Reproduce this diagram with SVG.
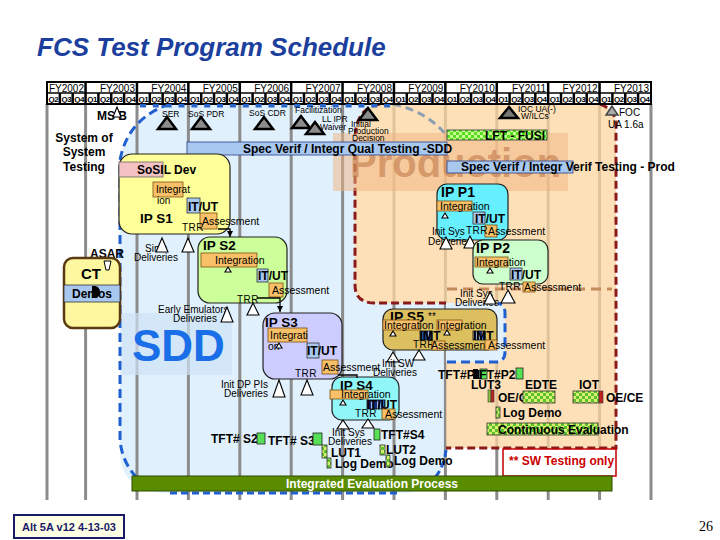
<svg xmlns="http://www.w3.org/2000/svg" width="720" height="540" viewBox="0 0 720 540">
<defs>
<style>
text{font-family:"Liberation Sans",Arial,sans-serif;fill:#000}
.fy{font-size:10px;text-anchor:end}
.q{font-size:8px;font-weight:bold;text-anchor:middle;letter-spacing:-0.5px}
.b12{font-size:12px;font-weight:bold}
.ip{font-size:13.5px;font-weight:bold}
.s10{font-size:10px}
.s105{font-size:10.5px}
.m8{font-size:8.5px}
.box{stroke:#222;stroke-width:1.2}
.or{fill:#f8c068;stroke:#7a5010;stroke-width:0.8}
.bl{fill:#a8c8f0;stroke:#333;stroke-width:0.8}
.nv{fill:url(#nvs);stroke:#111;stroke-width:0.8}
.tri{fill:#fff;stroke:#000;stroke-width:1.1}
.ms{fill:#8c8c8c;stroke:#000;stroke-width:2.5}
.grid{stroke:#8c8c8c;stroke-width:3}
.tft{fill:#55e055;stroke:#222;stroke-width:0.8}
.chk{fill:url(#chk);stroke:#333;stroke-width:0.8}
.con{stroke:#000;stroke-width:1.3;fill:none}
.qs{stroke:#000;stroke-width:2.5}
.tick{fill:#2a66c8}
</style>
<pattern id="chk" width="6" height="6" patternUnits="userSpaceOnUse">
<rect width="6" height="6" fill="#d8f070"/>
<rect width="3" height="3" fill="#5cc030"/>
<rect x="3" y="3" width="3" height="3" fill="#5cc030"/>
</pattern>
<pattern id="chkg" width="6" height="6" patternUnits="userSpaceOnUse">
<rect width="6" height="6" fill="#c8ff90"/>
<rect width="3" height="3" fill="#55dd22"/>
<rect x="3" y="3" width="3" height="3" fill="#55dd22"/>
</pattern>
<pattern id="nvs" width="3" height="4" patternUnits="userSpaceOnUse">
<rect width="3" height="4" fill="#1c2c70"/>
<rect x="2" width="1" height="4" fill="#9fb8e8"/>
</pattern>
<marker id="arr" markerWidth="6" markerHeight="6" refX="6" refY="3" orient="auto" markerUnits="userSpaceOnUse">
<path d="M0,0 L6,3 L0,6 Z" fill="#000"/>
</marker>
</defs>

<rect width="720" height="540" fill="#fff"/>

<!-- title -->
<text x="37" y="56" style="font-size:26px;font-weight:bold;font-style:italic;fill:#1c3f9e">FCS Test Program Schedule</text>

<!-- background regions -->
<g id="regions">
<path d="M170,104 L380,104 Q355,108 355,140 L355,285 Q355,303 375,303 L446,303 L446,440 Q446,493 400,493 L170,493 Q120,493 120,450 L120,160 Q128,118 170,104 Z" fill="#e0f0fc"/>
<g class="grid">
<line x1="47" y1="104" x2="47" y2="500"/>
<line x1="85.6" y1="104" x2="85.6" y2="500"/>
<line x1="137" y1="104" x2="137" y2="500"/>
<line x1="188.4" y1="104" x2="188.4" y2="500"/>
<line x1="239.8" y1="104" x2="239.8" y2="500"/>
<line x1="291.2" y1="104" x2="291.2" y2="500"/>
<line x1="342.6" y1="104" x2="342.6" y2="500"/>
<line x1="394" y1="104" x2="394" y2="500"/>
<line x1="445.4" y1="104" x2="445.4" y2="500"/>
<line x1="496.8" y1="104" x2="496.8" y2="500"/>
<line x1="548.2" y1="104" x2="548.2" y2="500"/>
<line x1="599.6" y1="104" x2="599.6" y2="500"/>
<line x1="651" y1="104" x2="651" y2="500"/>
</g>
<path d="M380,104 L600,104 Q616,110 616,125 L616,448 L446,448 L446,303 L375,303 Q355,303 355,285 L355,140 Q355,108 380,104 Z" fill="#fcd6a0" fill-opacity="0.75"/>
<path d="M446,303 L495,303 Q505,303 505,313 L505,352 Q505,362 495,362 L446,362 Z" fill="#e0f0fc"/>
<line x1="447" y1="289" x2="612" y2="289" stroke="#c48a5a" stroke-width="3" stroke-dasharray="10,6"/>
<!-- borders -->
<path d="M380,104 Q355,108 355,140 L355,285 Q355,303 375,303 L446,303" fill="none" stroke="#8b1a1a" stroke-width="3" stroke-dasharray="8,4"/>
<path d="M600,104 Q616,110 616,125 L616,448 L446,448" fill="none" stroke="#8b1a1a" stroke-width="3" stroke-dasharray="8,4"/>
<path d="M170,104 Q128,118 120,160 L120,440 Q122,462 137,478" fill="none" stroke="#1f5fd0" stroke-width="3" stroke-dasharray="9,5"/>
<path d="M170,493 L400,493" fill="none" stroke="#1f5fd0" stroke-width="3" stroke-dasharray="7,4"/>
<path d="M446,450 Q444,468 433,480" fill="none" stroke="#1f5fd0" stroke-width="3" stroke-dasharray="7,4"/>
<path d="M447,362 L495,362 Q505,362 505,352 L505,313 Q505,305 498,303" fill="none" stroke="#1f5fd0" stroke-width="3" stroke-dasharray="9,5"/>
<path d="M393,104 Q430,112 450,140" fill="none" stroke="#8c9fb0" stroke-width="3" stroke-dasharray="8,5"/>
<!-- watermarks -->
<rect x="122" y="313" width="110" height="62" fill="#cfe3f6" opacity="0.7"/>
<text x="132" y="361" style="font-size:44px;font-weight:bold;fill:#1a6fe8">SDD</text>
<rect x="333" y="133" width="235" height="58" fill="#f0b480" opacity="0.5"/>
<text x="350" y="177" style="font-size:40px;font-weight:bold;fill:#c0784a;fill-opacity:0.6">Production</text>
</g>

<!-- header table -->
<g id="header">
<rect x="47" y="82" width="604" height="22" fill="#fff" stroke="#000" stroke-width="2"/>
<line x1="47" y1="93" x2="651" y2="93" stroke="#000" stroke-width="1.5"/>
<g stroke="#000" stroke-width="2.5">
<line x1="85.55" y1="82" x2="85.55" y2="104"/><line x1="136.95" y1="82" x2="136.95" y2="104"/>
<line x1="188.35" y1="82" x2="188.35" y2="104"/><line x1="239.75" y1="82" x2="239.75" y2="104"/>
<line x1="291.15" y1="82" x2="291.15" y2="104"/><line x1="342.55" y1="82" x2="342.55" y2="104"/>
<line x1="393.95" y1="82" x2="393.95" y2="104"/><line x1="445.35" y1="82" x2="445.35" y2="104"/>
<line x1="496.75" y1="82" x2="496.75" y2="104"/><line x1="548.15" y1="82" x2="548.15" y2="104"/>
<line x1="599.55" y1="82" x2="599.55" y2="104"/>
</g>
<g class="qs">
<line x1="59.85" y1="93" x2="59.85" y2="104"/><line x1="72.7" y1="93" x2="72.7" y2="104"/>
<line x1="98.4" y1="93" x2="98.4" y2="104"/><line x1="111.25" y1="93" x2="111.25" y2="104"/><line x1="124.1" y1="93" x2="124.1" y2="104"/>
<line x1="149.8" y1="93" x2="149.8" y2="104"/><line x1="162.65" y1="93" x2="162.65" y2="104"/><line x1="175.5" y1="93" x2="175.5" y2="104"/>
<line x1="201.2" y1="93" x2="201.2" y2="104"/><line x1="214.05" y1="93" x2="214.05" y2="104"/><line x1="226.9" y1="93" x2="226.9" y2="104"/>
<line x1="252.6" y1="93" x2="252.6" y2="104"/><line x1="265.45" y1="93" x2="265.45" y2="104"/><line x1="278.3" y1="93" x2="278.3" y2="104"/>
<line x1="304" y1="93" x2="304" y2="104"/><line x1="316.85" y1="93" x2="316.85" y2="104"/><line x1="329.7" y1="93" x2="329.7" y2="104"/>
<line x1="355.4" y1="93" x2="355.4" y2="104"/><line x1="368.25" y1="93" x2="368.25" y2="104"/><line x1="381.1" y1="93" x2="381.1" y2="104"/>
<line x1="406.8" y1="93" x2="406.8" y2="104"/><line x1="419.65" y1="93" x2="419.65" y2="104"/><line x1="432.5" y1="93" x2="432.5" y2="104"/>
<line x1="458.2" y1="93" x2="458.2" y2="104"/><line x1="471.05" y1="93" x2="471.05" y2="104"/><line x1="483.9" y1="93" x2="483.9" y2="104"/>
<line x1="509.6" y1="93" x2="509.6" y2="104"/><line x1="522.45" y1="93" x2="522.45" y2="104"/><line x1="535.3" y1="93" x2="535.3" y2="104"/>
<line x1="561" y1="93" x2="561" y2="104"/><line x1="573.85" y1="93" x2="573.85" y2="104"/><line x1="586.7" y1="93" x2="586.7" y2="104"/>
<line x1="612.4" y1="93" x2="612.4" y2="104"/><line x1="625.25" y1="93" x2="625.25" y2="104"/><line x1="638.1" y1="93" x2="638.1" y2="104"/>
</g>
<text class="fy" x="84" y="91.5">FY2002</text>
<text class="fy" x="135" y="91.5">FY2003</text>
<text class="fy" x="186.4" y="91.5">FY2004</text>
<text class="fy" x="237.8" y="91.5">FY2005</text>
<text class="fy" x="289.2" y="91.5">FY2006</text>
<text class="fy" x="340.6" y="91.5">FY2007</text>
<text class="fy" x="392" y="91.5">FY2008</text>
<text class="fy" x="443.4" y="91.5">FY2009</text>
<text class="fy" x="494.8" y="91.5">FY2010</text>
<text class="fy" x="546.2" y="91.5">FY2011</text>
<text class="fy" x="597.6" y="91.5">FY2012</text>
<text class="fy" x="649" y="91.5">FY2013</text>
<g>
<text class="q" x="53.4" y="102">Q2</text><text class="q" x="66.3" y="102">Q3</text><text class="q" x="79.1" y="102">Q4</text>
<text class="q" x="92" y="102">Q1</text><text class="q" x="104.8" y="102">Q2</text><text class="q" x="117.7" y="102">Q3</text><text class="q" x="130.5" y="102">Q4</text>
<text class="q" x="143.4" y="102">Q1</text><text class="q" x="156.2" y="102">Q2</text><text class="q" x="169.1" y="102">Q3</text><text class="q" x="181.9" y="102">Q4</text>
<text class="q" x="194.8" y="102">Q1</text><text class="q" x="207.6" y="102">Q2</text><text class="q" x="220.5" y="102">Q3</text><text class="q" x="233.3" y="102">Q4</text>
<text class="q" x="246.2" y="102">Q1</text><text class="q" x="259" y="102">Q2</text><text class="q" x="271.9" y="102">Q3</text><text class="q" x="284.7" y="102">Q4</text>
<text class="q" x="297.6" y="102">Q1</text><text class="q" x="310.4" y="102">Q2</text><text class="q" x="323.3" y="102">Q3</text><text class="q" x="336.1" y="102">Q4</text>
<text class="q" x="349" y="102">Q1</text><text class="q" x="361.8" y="102">Q2</text><text class="q" x="374.7" y="102">Q3</text><text class="q" x="387.5" y="102">Q4</text>
<text class="q" x="400.4" y="102">Q1</text><text class="q" x="413.2" y="102">Q2</text><text class="q" x="426.1" y="102">Q3</text><text class="q" x="438.9" y="102">Q4</text>
<text class="q" x="451.8" y="102">Q1</text><text class="q" x="464.6" y="102">Q2</text><text class="q" x="477.5" y="102">Q3</text><text class="q" x="490.3" y="102">Q4</text>
<text class="q" x="503.2" y="102">Q1</text><text class="q" x="516" y="102">Q2</text><text class="q" x="528.9" y="102">Q3</text><text class="q" x="541.7" y="102">Q4</text>
<text class="q" x="554.6" y="102">Q1</text><text class="q" x="567.4" y="102">Q2</text><text class="q" x="580.3" y="102">Q3</text><text class="q" x="593.1" y="102">Q4</text>
<text class="q" x="606" y="102">Q1</text><text class="q" x="618.8" y="102">Q2</text><text class="q" x="631.7" y="102">Q3</text><text class="q" x="644.5" y="102">Q4</text>
</g>
<g class="tick">
<rect x="140" y="104" width="6" height="3.5"/><rect x="152.8" y="104" width="6" height="3.5"/><rect x="165.6" y="104" width="6" height="3.5"/><rect x="178.5" y="104" width="6" height="3.5"/>
<rect x="191.4" y="104" width="6" height="3.5"/><rect x="204.2" y="104" width="6" height="3.5"/><rect x="217" y="104" width="6" height="3.5"/><rect x="229.9" y="104" width="6" height="3.5"/>
<rect x="242.8" y="104" width="6" height="3.5"/><rect x="255.6" y="104" width="6" height="3.5"/><rect x="268.5" y="104" width="6" height="3.5"/><rect x="281.3" y="104" width="6" height="3.5"/>
<rect x="294.2" y="104" width="6" height="3.5"/><rect x="307" y="104" width="6" height="3.5"/><rect x="319.9" y="104" width="6" height="3.5"/><rect x="332.7" y="104" width="6" height="3.5"/>
<rect x="345.6" y="104" width="6" height="3.5"/><rect x="358.4" y="104" width="6" height="3.5"/><rect x="371.3" y="104" width="6" height="3.5"/><rect x="384.1" y="104" width="6" height="3.5"/>
</g>
</g>

<!-- milestones -->
<g id="milestones">
<text class="b12" x="97" y="120">MS B</text>
<polygon class="tri" points="117,107 113,117 121,117"/>
<text class="m8" x="162" y="117">SER</text>
<polygon class="ms" points="167,117 158,129 176,129"/>
<text class="m8" x="188" y="117">SoS PDR</text>
<polygon class="ms" points="201,117 192,129 210,129"/>
<text class="m8" x="249" y="116">SoS CDR</text>
<polygon class="ms" points="264,117 255,129 273,129"/>
<text class="m8" x="295" y="113">Facilitization</text>
<text class="m8" x="322" y="122">LL IPR</text>
<text class="m8" x="320" y="130">Waiver</text>
<polygon class="ms" points="301,116 292,128 310,128"/>
<polygon class="ms" points="315,122 306,134 324,134"/>
<polygon class="ms" points="368,108 359,120 377,120"/>
<text class="m8" x="351" y="127">Initial</text>
<text class="m8" x="348" y="134">Production</text>
<text class="m8" x="352" y="141">Decision</text>
<polygon class="ms" points="509,107 500,118 518,118" style="fill:#777"/>
<text class="m8" x="518" y="112">IOC UA(-)</text>
<text class="m8" x="521" y="119">W/ILCs</text>
<polygon points="612,106 606,115 618,115" fill="#aaa" stroke="#444" stroke-width="1.5"/>
<text class="s10" x="619" y="116">FOC</text>
<text class="s10" x="608" y="128">UA 1.6a</text>
</g>

<!-- bars -->
<g id="bars">
<rect x="447" y="130" width="100" height="10" fill="url(#chkg)" stroke="#333" stroke-width="0.8"/>
<text class="b12" x="485" y="140">LFT - FUSI</text>
<rect x="187" y="142" width="260" height="13" class="bl" style="stroke:#27408b"/>
<text class="b12" x="243" y="153">Spec Verif / Integr Qual Testing -SDD</text>
<rect x="447" y="161" width="126" height="12" class="bl" style="stroke:#27408b"/>
<text class="b12" x="461" y="171">Spec Verif / Integr Verif Testing - Prod</text>
</g>

<g id="sos-label">
<text class="b12" x="84" y="142" text-anchor="middle">System of</text>
<text class="b12" x="84" y="156" text-anchor="middle">System</text>
<text class="b12" x="84" y="171" text-anchor="middle">Testing</text>
</g>

<g id="ct">
<text class="b12" x="90" y="258">ASAR</text>
<rect x="64" y="258" width="56" height="70" rx="9" fill="#fdf7a0" stroke="#5a3a10" stroke-width="2.5"/>
<polygon points="104,261 111,261 109,270 106,270" fill="#fff" stroke="#000" stroke-width="1"/>
<text x="81" y="279" style="font-size:15px;font-weight:bold">CT</text>
<rect x="64" y="285" width="56" height="17" class="bl"/>
<text class="b12" x="72" y="298">Demos</text>
<path d="M92,286 L95,286 A5,6 0 0 1 95,298 L92,298 Z" fill="#000"/>
</g>

<g id="ip-s1">
<rect x="119" y="154" width="111" height="80" rx="13" fill="#ffff99" class="box"/>
<rect x="119" y="162" width="44" height="15" fill="#f4c2c2" stroke="#666" stroke-width="0.8"/>
<text class="b12" x="137" y="174">SoSIL Dev</text>
<rect x="153" y="182" width="30" height="15" class="or"/>
<text class="s10" x="156" y="193">Integrat</text>
<text class="s10" x="157" y="204">ion</text>
<rect x="187" y="198" width="13" height="15" class="bl"/>
<text class="b12" x="188" y="211">IT/UT</text>
<text class="ip" x="140" y="223">IP S1</text>
<rect x="200" y="213" width="17" height="16" class="or"/>
<text class="s105" x="202" y="225">Assessment</text>
<text class="s10" x="182" y="231" style="letter-spacing:0.5px">TRR</text>
<text class="s10" x="145" y="252">Sims</text>
<text class="s10" x="134" y="261">Deliveries</text>
<polygon class="tri" points="162,238 156,252 168,252"/>
<polygon class="tri" points="188,238 182,252 194,252"/>
</g>

<g id="ip-s2">
<rect x="198" y="237" width="89" height="66" rx="12" fill="#ccff99" class="box"/>
<text class="ip" x="203" y="250">IP S2</text>
<rect x="201" y="253" width="56" height="14" class="or"/>
<text class="s105" x="215" y="264">Integration</text>
<polygon class="tri" points="228,267 225,272 231,272"/>
<rect x="257" y="269" width="11" height="13" class="bl"/>
<text class="b12" x="258" y="280">IT/UT</text>
<rect x="269" y="283" width="14" height="14" class="or"/>
<text class="s105" x="272" y="294">Assessment</text>
<text class="s10" x="237" y="303" style="letter-spacing:0.5px">TRR</text>
<polygon class="tri" points="253,303 247,315 259,315"/>
<text class="s10" x="158" y="313">Early Emulators</text>
<text class="s10" x="173" y="322">Deliveries</text>
<polygon class="tri" points="227,307 221,322 233,322"/>
</g>

<g id="ip-s3">
<rect x="263" y="313" width="79" height="66" rx="12" fill="#ccccff" class="box"/>
<text class="ip" x="265" y="327">IP S3</text>
<rect x="268" y="328" width="39" height="14" class="or"/>
<text class="s105" x="270" y="339">Integrati</text>
<text class="s105" x="268" y="350">on</text>
<polygon class="tri" points="279,343 276,348 282,348"/>
<rect x="307" y="343" width="12" height="15" class="bl"/>
<text class="b12" x="307" y="355">IT/UT</text>
<rect x="322" y="360" width="16" height="14" class="or"/>
<text class="s105" x="323" y="371">Assessment</text>
<text class="s10" x="295" y="377" style="letter-spacing:0.5px">TRR</text>
<polygon class="tri" points="279,380 273,397 285,397"/>
<polygon class="tri" points="307,380 301,395 313,395"/>
<text class="s10" x="221" y="388">Init DP PIs</text>
<text class="s10" x="224" y="397">Deliveries</text>
</g>

<g id="ip-s4">
<rect x="332" y="377" width="67" height="43" rx="10" fill="#90f6f8" class="box"/>
<text class="ip" x="340" y="390">IP S4</text>
<rect x="330" y="390" width="38" height="9" class="or"/>
<text class="s105" x="341" y="398">Integration</text>
<polygon class="tri" points="343,400 340,405 346,405"/>
<rect x="367" y="400" width="18" height="9" class="nv"/>
<text class="b12" x="367" y="409">IT/UT</text>
<rect x="382" y="409" width="13" height="10" class="or"/>
<text class="s105" x="385" y="418">Assessment</text>
<text class="s10" x="355" y="417" style="letter-spacing:0.5px">TRR</text>
<polygon class="tri" points="343,420 337,429 349,429"/>
<polygon class="tri" points="368,419 362,428 374,428"/>
<text class="s10" x="332" y="436">Init Sys</text>
<text class="s10" x="328" y="445">Deliveries</text>
</g>

<g id="ip-s5">
<rect x="383" y="309" width="114" height="41" rx="10" fill="#dcc060" class="box"/>
<text x="390" y="322" style="font-size:14px;font-weight:bold">IP S5</text>
<text class="s10" x="428" y="320">**</text>
<rect x="383" y="320" width="37" height="10" class="or"/>
<text class="s105" x="384" y="329">Integration</text>
<rect x="437" y="320" width="25" height="10" class="or"/>
<text class="s105" x="437" y="329">Integration</text>
<polygon class="tri" points="393,331 390,336 396,336"/>
<polygon class="tri" points="447,330 444,335 450,335"/>
<rect x="420" y="331" width="12" height="9" class="nv"/>
<text class="b12" x="420" y="340">IMT</text>
<rect x="473" y="331" width="12" height="9" class="nv"/>
<text class="b12" x="473" y="340">IMT</text>
<text class="s10" x="413" y="348" style="letter-spacing:0.5px">TRR</text>
<rect x="432" y="341" width="13" height="9" class="or"/>
<text class="s105" x="431" y="349">Assessment</text>
<rect x="485" y="340" width="12" height="10" class="or"/>
<text class="s105" x="488" y="349">Assessment</text>
<polygon class="tri" points="393,352 387,362 399,362"/>
<polygon class="tri" points="419,350 413,360 425,360"/>
<text class="s10" x="382" y="367">Init SW</text>
<text class="s10" x="373" y="376">Deliveries</text>
</g>

<g id="ip-p1">
<rect x="437" y="184" width="71" height="56" rx="10" fill="#66f0ff" class="box"/>
<text x="441" y="197" style="font-size:14px;font-weight:bold">IP P1</text>
<rect x="437" y="201" width="35" height="10" class="or"/>
<text class="s105" x="440" y="210">Integration</text>
<polygon class="tri" points="445,213 442,218 448,218"/>
<rect x="473" y="212" width="12" height="12" class="bl"/>
<text class="b12" x="475" y="223">IT/UT</text>
<rect x="485" y="225" width="12" height="12" class="or"/>
<text class="s105" x="488" y="235">Assessment</text>
<text class="s10" x="466" y="234" style="letter-spacing:0.5px">TRR</text>
<text class="s10" x="432" y="235">Init Sys</text>
<text class="s10" x="428" y="245">Deliveries</text>
<polygon class="tri" points="446,237 440,249 452,249"/>
<polygon class="tri" points="470,236 464,248 476,248"/>
</g>

<g id="ip-p2">
<rect x="473" y="240" width="75" height="44" rx="10" fill="#ccffcc" class="box"/>
<text x="476" y="253" style="font-size:14px;font-weight:bold">IP P2</text>
<rect x="475" y="257" width="33" height="10" class="or"/>
<text class="s105" x="476" y="266">Integration</text>
<polygon class="tri" points="490,268 487,273 493,273"/>
<rect x="510" y="268" width="12" height="12" class="bl"/>
<text class="b12" x="511" y="279">IT/UT</text>
<rect x="523" y="282" width="12" height="10" class="or"/>
<text class="s105" x="524" y="291">Assessment</text>
<text class="s10" x="499" y="290" style="letter-spacing:0.5px">TRR</text>
<text class="s10" x="460" y="297">Init Sys</text>
<text class="s10" x="455" y="306">Deliveries</text>
<polygon class="tri" points="490,292 484,304 496,304"/>
<polygon class="tri" points="508,290 501,303 515,303"/>
</g>

<g id="sdd-events">
<text class="b12" x="211" y="443">TFT# S2</text>
<rect x="257" y="433" width="8" height="11" class="tft"/>
<text class="b12" x="268" y="445">TFT# S3</text>
<rect x="313" y="433" width="9" height="12" class="tft"/>
<rect x="374" y="429" width="6" height="11" class="tft"/>
<text class="b12" x="381" y="439">TFT#S4</text>
<rect x="322" y="445" width="5" height="13" class="chk"/>
<text class="b12" x="331" y="457">LUT1</text>
<rect x="380" y="445" width="5" height="10" class="chk"/>
<text class="b12" x="386" y="454">LUT2</text>
<rect x="327" y="458" width="4" height="10" class="chk"/>
<text class="b12" x="335" y="468">Log Demo</text>
<rect x="386" y="455" width="4" height="12" class="chk"/>
<text class="b12" x="394" y="465">Log Demo</text>
</g>

<g id="prod-events">
<text class="b12" x="438" y="379">TFT#P1</text>
<rect x="473" y="369" width="5" height="10" fill="#111"/>
<rect x="480" y="369" width="7" height="10" class="tft"/>
<text class="b12" x="472" y="379">TFT#P2</text>
<rect x="516" y="368" width="7" height="11" class="tft"/>
<text class="b12" x="471" y="389">LUT3</text>
<rect x="488" y="390" width="3" height="12" fill="#90c040" stroke="#333" stroke-width="0.6"/>
<rect x="491" y="390" width="3" height="12" fill="#c02020" stroke="#333" stroke-width="0.6"/>
<text class="b12" x="498" y="402">OE/CE</text>
<text class="b12" x="525" y="389">EDTE</text>
<rect x="523" y="391" width="32" height="12" class="chk"/>
<text class="b12" x="579" y="389">IOT</text>
<rect x="573" y="391" width="26" height="12" class="chk"/>
<rect x="599" y="391" width="4" height="12" fill="#c02020" stroke="#333" stroke-width="0.6"/>
<text class="b12" x="606" y="402">OE/CE</text>
<rect x="496" y="407" width="4" height="11" class="chk"/>
<text class="b12" x="503" y="417">Log Demo</text>
<rect x="487" y="423" width="111" height="12" class="chk"/>
<text class="b12" x="498" y="434">Continuous Evaluation</text>
<rect x="503" y="449" width="113" height="27" fill="#fff" stroke="#c00000" stroke-width="1.5"/>
<text class="b12" x="509" y="465" style="fill:#cc0000">** SW Testing only</text>
</g>

<g id="connectors">
<polyline class="con" points="218,229 230,229 230,237" marker-end="url(#arr)"/>
<polyline class="con" points="257,298 280,298 280,312" marker-end="url(#arr)"/>
<polyline class="con" points="338,375 357,375 357,378"/>
</g>

<g id="integrated">
<rect x="132" y="476" width="480" height="15" fill="#5a8c00" stroke="#2d4a00" stroke-width="1"/>
<text class="b12" x="372" y="488" text-anchor="middle" style="fill:#fff">Integrated  Evaluation Process</text>
</g>

<g id="footer">
<rect x="14" y="515" width="110" height="23" fill="#ffffe6" stroke="#1a1a6a" stroke-width="2"/>
<text x="69" y="531" text-anchor="middle" style="font-size:11px;font-weight:bold;fill:#1a1a6a">Alt 5A v12 4-13-03</text>
<text x="699" y="531" style="font-family:'Liberation Serif',serif;font-size:14px">26</text>
</g>
</svg>
